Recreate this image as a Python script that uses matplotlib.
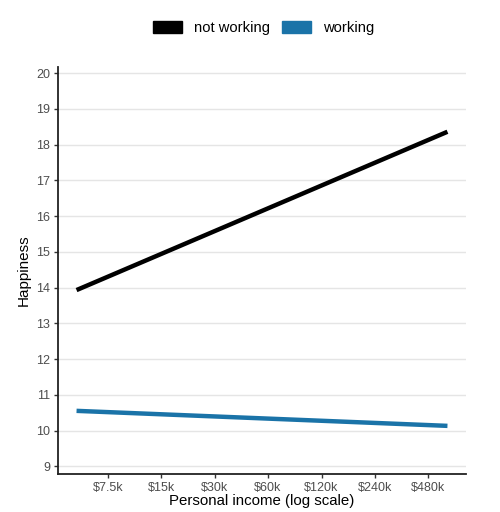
import numpy as np
import matplotlib.pyplot as plt
from matplotlib.patches import Patch

# data
groups = ["not working", "working"]
colors = ["#000000", "#1A73A8"]
income = [5000, 615000]
happy_not_working = [13.93, 18.36]
happy_working = [10.55, 10.13]
tick_vals = [7500, 15000, 30000, 60000, 120000, 240000, 480000]
tick_labels = ["$7.5k", "$15k", "$30k", "$60k", "$120k", "$240k", "$480k"]
y_ticks = list(range(9, 21))

plt.rcParams['font.family'] = ['Liberation Sans', 'DejaVu Sans']

fig = plt.figure(figsize=(5, 5.12), dpi=100)
ax = fig.add_axes([0.116, 0.074, 0.816, 0.795])

for vals, col in zip([happy_not_working, happy_working], colors):
    ax.plot(income, vals, color=col, lw=3.2, solid_capstyle='butt')

ax.set_xscale('log')
lo, hi = np.log10(income[0]), np.log10(income[1])
pad = (hi - lo) * 0.05
ax.set_xlim(10 ** (lo - pad), 10 ** (hi + pad))
ax.set_ylim(8.78, 20.17)

ax.set_xticks(tick_vals)
ax.set_xticklabels(tick_labels)
ax.xaxis.set_minor_locator(plt.NullLocator())
ax.set_yticks(y_ticks)

ax.grid(axis='y', color='#e5e5e5', lw=1)
ax.set_axisbelow(True)
for s in ['top', 'right']:
    ax.spines[s].set_visible(False)
for s in ['left', 'bottom']:
    ax.spines[s].set_color('#222222')
    ax.spines[s].set_linewidth(1.3)
ax.tick_params(axis='both', colors='#333333', labelcolor='#4d4d4d',
               labelsize=9, length=3, width=1, pad=2.5)

ax.set_xlabel("Personal income (log scale)", fontsize=10.8, labelpad=0)
ax.set_ylabel("Happiness", fontsize=11, labelpad=4)

handles = [Patch(facecolor=c, edgecolor=c) for c in colors]
fig.legend(handles, groups, loc='center', bbox_to_anchor=(0.527, 0.946),
           ncol=2, frameon=False, fontsize=10.6, handlelength=2.0,
           handleheight=0.9, columnspacing=0.8, handletextpad=0.8)

fig.savefig("out.png", dpi=100)
